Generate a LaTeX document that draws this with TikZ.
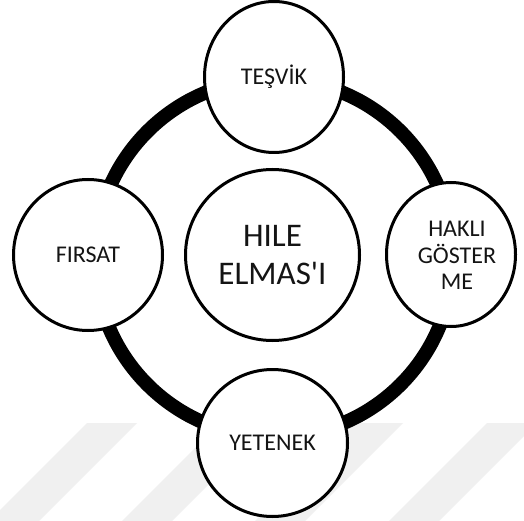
\documentclass[tikz,border=0pt]{standalone}
\usepackage{fontspec}
\setmainfont{Carlito}
\usetikzlibrary{shapes.geometric}
\begin{document}
\begin{tikzpicture}[x=1pt,y=-1pt,
  blob/.style={ellipse, draw=black, line width=3pt, fill=white, inner sep=0pt},
  lbl/.style={font=\fontsize{24}{26.5}\selectfont, text=black!92, align=center, inner sep=0pt},
  biglbl/.style={font=\fontsize{33}{38.5}\selectfont, text=black!92, align=center, inner sep=0pt},
  ringline/.style={line width=14pt, draw=black},
  stripe/.style={fill=black!6, draw=none}]
\useasboundingbox (0,0) rectangle (524,521);
\fill[white] (0,0) rectangle (524,521);
\begin{scope}
  \clip (0,0) rectangle (524,521);
  \foreach \sx in {87,220,353,487}{
    \fill[stripe] (\sx,423) -- (\sx+50,423) -- (\sx-48,521) -- (\sx-98,521) -- cycle;
  }
\end{scope}
\coordinate (ringc) at (274,258);
\draw[ringline] (ringc) circle[radius=179];
\node[blob, minimum width=174pt, minimum height=171pt] (hile) at (272.5,255) {};
\node[biglbl] at (hile.center) {HILE\\ELMAS\textquotesingle I};
\node[blob, minimum width=139pt, minimum height=151pt] (tesvik) at (274,77) {};
\node[lbl] at (tesvik.center) {TEŞVİK};
\node[blob, minimum width=149pt, minimum height=151pt] (firsat) at (88,255) {};
\node[lbl] at (firsat.center) {FIRSAT};
\node[blob, minimum width=129pt, minimum height=144pt] (hakli) at (451,254.5) {};
\node[lbl] at ([xshift=6pt,yshift=-1pt]hakli.center) {HAKLI\\GÖSTER\\ME};
\node[blob, minimum width=150pt, minimum height=147pt] (yetenek) at (272.5,443) {};
\node[lbl] at (yetenek.center) {YETENEK};
\end{tikzpicture}
\end{document}
